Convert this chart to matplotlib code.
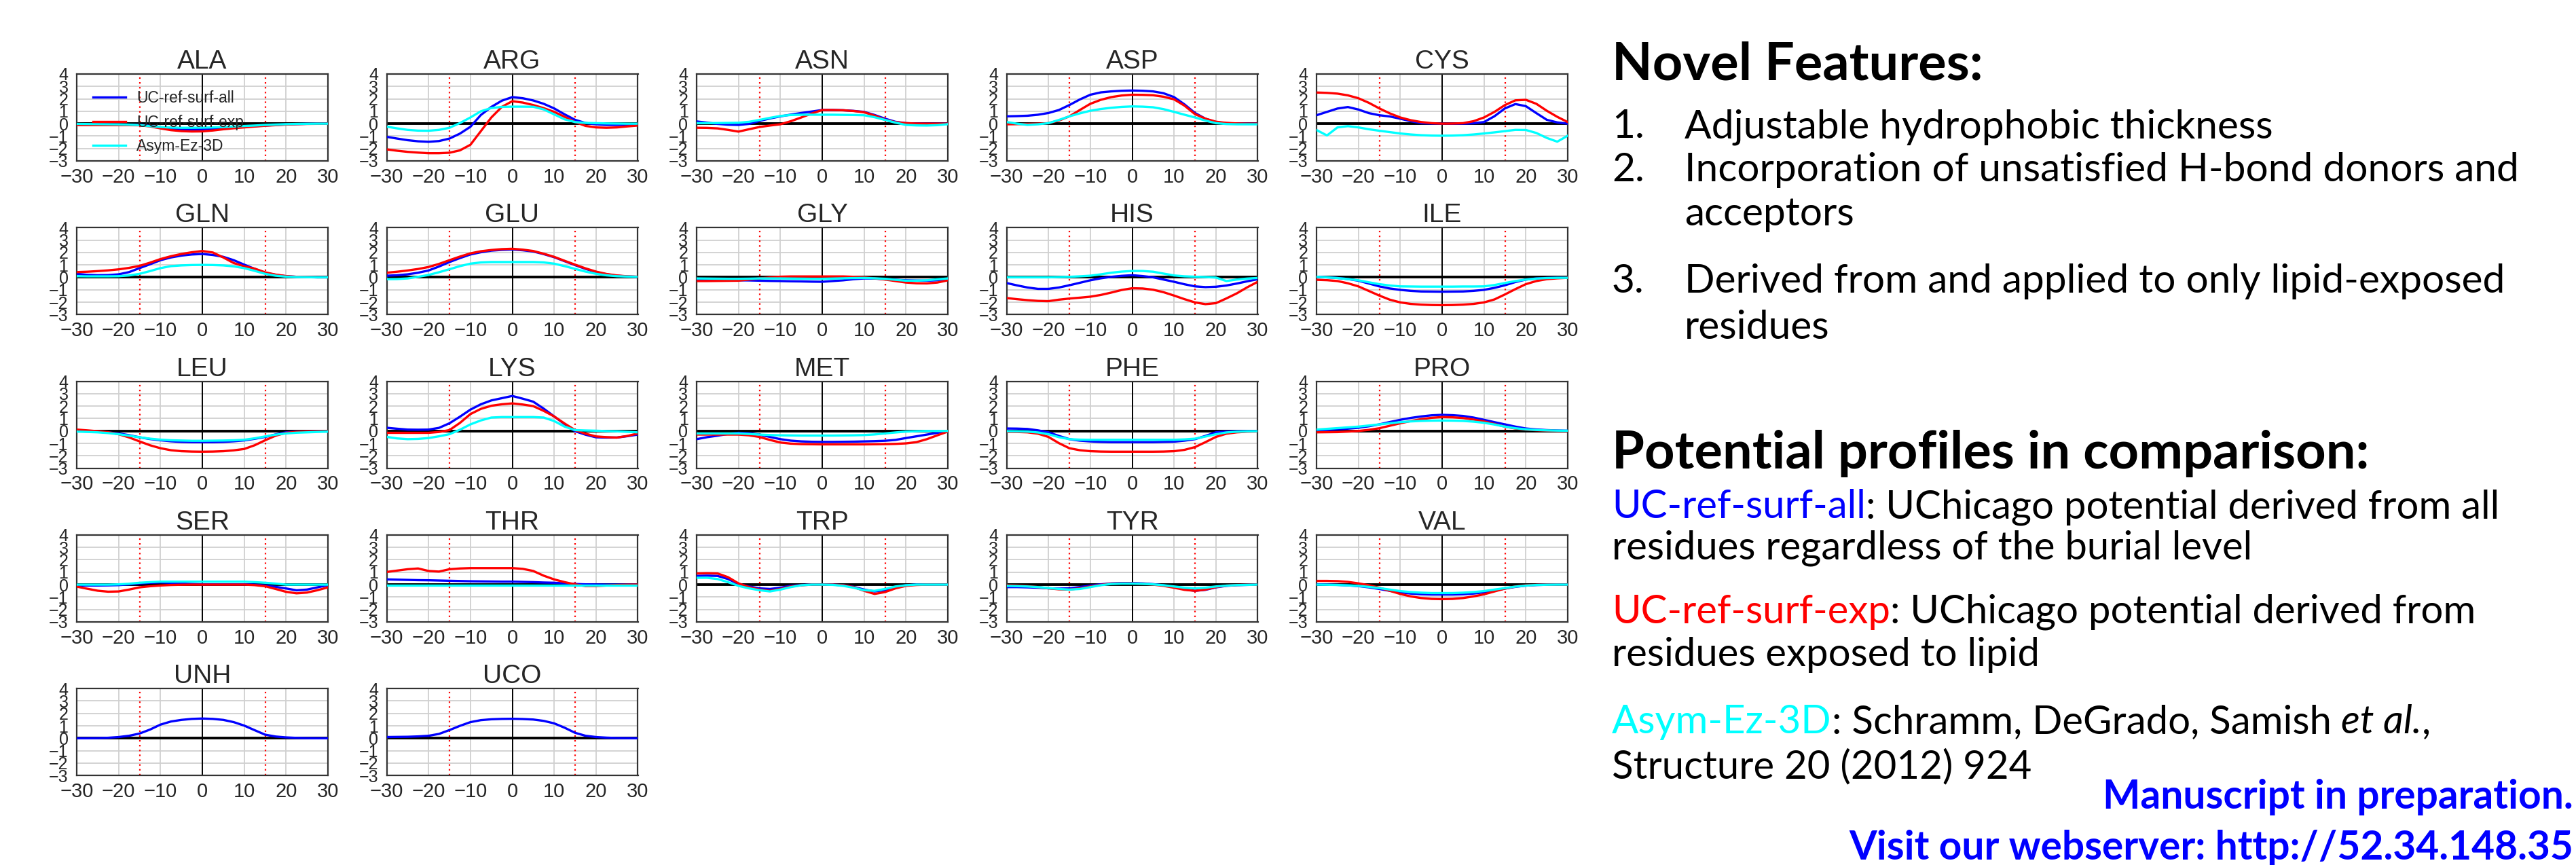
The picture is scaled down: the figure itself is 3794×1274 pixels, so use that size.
import matplotlib
matplotlib.use("Agg")
import matplotlib.pyplot as plt

W, H = 3794, 1274
DPI = 100

# ---------------- data ----------------
z = [-30, -27.5, -25, -22.5, -20, -17.5, -15, -12.5, -10, -7.5, -5, -2.5, 0,
     2.5, 5, 7.5, 10, 12.5, 15, 17.5, 20, 22.5, 25, 27.5, 30]

residues = ["ALA", "ARG", "ASN", "ASP", "CYS",
            "GLN", "GLU", "GLY", "HIS", "ILE",
            "LEU", "LYS", "MET", "PHE", "PRO",
            "SER", "THR", "TRP", "TYR", "VAL",
            "UNH", "UCO"]

series_labels = ["UC-ref-surf-all", "UC-ref-surf-exp", "Asym-Ez-3D"]
series_colors = ["#0000ff", "#ff0000", "#00ffff"]

ALA_all = [-0.05,-0.05,-0.05,-0.06,-0.07,-0.08,-0.1,-0.18,-0.3,-0.4,-0.45,-0.46,-0.45,-0.4,-0.35,-0.3,-0.25,-0.2,-0.15,-0.1,-0.06,-0.03,-0.01,0,0]
ALA_exp = [-0.12,-0.12,-0.12,-0.12,-0.12,-0.12,-0.13,-0.22,-0.38,-0.52,-0.6,-0.63,-0.62,-0.55,-0.45,-0.37,-0.3,-0.23,-0.17,-0.12,-0.07,-0.04,-0.02,-0.01,0]
ALA_ez = [-0.02,-0.03,-0.04,-0.05,-0.06,-0.08,-0.12,-0.2,-0.27,-0.31,-0.33,-0.33,-0.32,-0.3,-0.27,-0.23,-0.19,-0.15,-0.1,-0.07,-0.04,-0.02,-0.01,0,0]

ARG_all = [-1.06,-1.2,-1.33,-1.42,-1.46,-1.4,-1.2,-0.8,-0.25,0.7,1.35,1.85,2.14,2.05,1.87,1.6,1.23,0.75,0.31,0.05,-0.05,-0.1,-0.1,-0.1,-0.1]
ARG_exp = [-2.07,-2.18,-2.27,-2.33,-2.38,-2.38,-2.34,-2.15,-1.7,-0.6,0.5,1.35,1.81,1.7,1.5,1.25,0.95,0.55,0.13,-0.18,-0.3,-0.33,-0.3,-0.22,-0.15]
ARG_ez = [-0.24,-0.38,-0.5,-0.56,-0.57,-0.5,-0.33,0.05,0.5,1.0,1.26,1.35,1.37,1.37,1.36,1.15,0.75,0.35,0.13,0.06,0.04,0.02,0.01,0,0]

ASN_all = [0.18,0.08,-0.02,-0.08,-0.1,-0.02,0.22,0.42,0.59,0.73,0.86,0.98,1.1,1.1,1.08,1.03,0.95,0.7,0.4,0.15,0.04,0.01,0,0,0]
ASN_exp = [-0.33,-0.34,-0.38,-0.5,-0.64,-0.45,-0.27,-0.15,-0.05,0.2,0.5,0.82,1.1,1.1,1.08,1.02,0.92,0.65,0.31,0.12,0.04,0.01,0,0,0]
ASN_ez = [0.04,0.04,0.05,0.06,0.07,0.15,0.3,0.47,0.62,0.7,0.72,0.72,0.72,0.72,0.71,0.7,0.68,0.52,0.3,0.08,-0.1,-0.14,-0.15,-0.12,-0.04]

ASP_all = [0.59,0.61,0.64,0.72,0.86,1.1,1.5,1.95,2.33,2.52,2.6,2.65,2.67,2.65,2.6,2.45,2.14,1.55,0.86,0.4,0.13,0.04,0.01,0,0]
ASP_exp = [-0.05,-0.04,-0.02,0.0,0.04,0.25,0.59,1.1,1.6,1.92,2.14,2.27,2.33,2.32,2.29,2.17,1.96,1.45,0.77,0.4,0.16,0.06,0.02,0,0]
ASP_ez = [0.13,0.0,-0.1,-0.05,0.04,0.3,0.59,0.83,1.04,1.18,1.28,1.35,1.39,1.37,1.32,1.17,0.95,0.72,0.5,0.25,0.04,-0.03,-0.05,-0.05,-0.05]

CYS_all = [0.68,0.95,1.22,1.34,1.14,0.85,0.68,0.58,0.4,0.2,0.04,0.01,0,0,0,0.03,0.13,0.6,1.23,1.58,1.41,0.85,0.31,0.1,0]
CYS_exp = [2.51,2.48,2.42,2.28,2.05,1.68,1.23,0.83,0.5,0.28,0.13,0.04,0,0.01,0.04,0.2,0.5,0.95,1.5,1.88,1.92,1.6,1.04,0.55,0.13]
CYS_ez = [-0.51,-0.95,-0.3,-0.2,-0.3,-0.45,-0.57,-0.68,-0.79,-0.87,-0.93,-0.96,-0.97,-0.96,-0.93,-0.87,-0.79,-0.7,-0.6,-0.5,-0.51,-0.75,-1.15,-1.45,-0.97]

GLN_all = [0.28,0.2,0.17,0.18,0.24,0.42,0.74,1.05,1.38,1.6,1.75,1.84,1.88,1.8,1.65,1.38,1.02,0.68,0.37,0.2,0.09,0.04,0.01,0,0]
GLN_exp = [0.42,0.45,0.5,0.56,0.64,0.76,0.92,1.18,1.47,1.7,1.88,2.02,2.12,2.0,1.6,1.15,0.88,0.7,0.4,0.22,0.1,0.04,0.02,0,0]
GLN_ez = [0.09,0.08,0.08,0.08,0.09,0.15,0.28,0.5,0.74,0.9,0.96,0.99,1.0,0.99,0.96,0.88,0.74,0.52,0.28,0.13,0.05,0.02,0.01,0,0]

GLU_all = [0.13,0.17,0.24,0.37,0.55,0.87,1.23,1.55,1.84,2.02,2.15,2.21,2.24,2.18,2.08,1.87,1.62,1.3,0.98,0.68,0.42,0.25,0.13,0.07,0.04]
GLU_exp = [0.37,0.45,0.55,0.67,0.83,1.08,1.38,1.67,1.93,2.1,2.2,2.27,2.3,2.23,2.12,1.9,1.65,1.33,1.02,0.72,0.46,0.27,0.15,0.08,0.05]
GLU_ez = [-0.15,-0.14,-0.09,0.04,0.19,0.41,0.65,0.9,1.1,1.2,1.23,1.23,1.23,1.23,1.23,1.2,1.1,0.9,0.68,0.46,0.28,0.16,0.09,0.06,0.04]

GLY_all = [-0.18,-0.2,-0.22,-0.23,-0.24,-0.25,-0.27,-0.29,-0.3,-0.32,-0.33,-0.35,-0.36,-0.3,-0.24,-0.15,-0.09,-0.1,-0.15,-0.2,-0.24,-0.26,-0.27,-0.24,-0.18]
GLY_exp = [-0.3,-0.3,-0.29,-0.28,-0.27,-0.18,-0.09,-0.01,0.05,0.07,0.07,0.07,0.07,0.07,0.07,0.04,0.0,-0.08,-0.18,-0.3,-0.42,-0.48,-0.49,-0.42,-0.24]
GLY_ez = [-0.09,-0.1,-0.11,-0.12,-0.12,-0.11,-0.09,-0.09,-0.09,-0.1,-0.11,-0.12,-0.12,-0.1,-0.08,-0.06,-0.05,-0.08,-0.12,-0.2,-0.27,-0.27,-0.24,-0.16,-0.09]

HIS_all = [-0.46,-0.65,-0.82,-0.93,-0.93,-0.82,-0.64,-0.44,-0.24,-0.08,0.04,0.12,0.17,0.1,0.0,-0.18,-0.36,-0.56,-0.73,-0.79,-0.76,-0.66,-0.5,-0.32,-0.15]
HIS_exp = [-1.67,-1.76,-1.84,-1.9,-1.92,-1.8,-1.71,-1.64,-1.56,-1.42,-1.23,-1.02,-0.88,-0.9,-1.0,-1.2,-1.47,-1.76,-2.02,-2.16,-2.08,-1.7,-1.29,-0.8,-0.36]
HIS_ez = [0,0,0,0,0,0.02,0.04,0.08,0.13,0.24,0.37,0.46,0.51,0.51,0.45,0.3,0.15,0.08,0.05,0.02,-0.02,-0.3,-0.18,-0.1,-0.05]

ILE_all = [0.04,0.0,-0.05,-0.14,-0.27,-0.5,-0.73,-0.9,-1.01,-1.09,-1.14,-1.15,-1.16,-1.15,-1.14,-1.09,-1.01,-0.85,-0.64,-0.38,-0.18,-0.09,-0.05,-0.04,-0.04]
ILE_exp = [-0.2,-0.23,-0.3,-0.48,-0.73,-1.1,-1.47,-1.8,-2.02,-2.14,-2.2,-2.23,-2.24,-2.23,-2.2,-2.14,-2.02,-1.78,-1.38,-0.95,-0.55,-0.3,-0.15,-0.08,-0.04]
ILE_ez = [0.04,0.0,-0.06,-0.14,-0.24,-0.4,-0.55,-0.66,-0.73,-0.74,-0.75,-0.75,-0.75,-0.75,-0.74,-0.74,-0.73,-0.62,-0.46,-0.3,-0.18,-0.1,-0.06,-0.04,-0.04]

LEU_all = [-0.02,-0.04,-0.07,-0.12,-0.2,-0.34,-0.51,-0.65,-0.75,-0.83,-0.88,-0.9,-0.9,-0.9,-0.88,-0.83,-0.76,-0.63,-0.48,-0.28,-0.11,-0.06,-0.04,-0.03,-0.04]
LEU_exp = [0.11,0.05,-0.02,-0.1,-0.26,-0.52,-0.84,-1.15,-1.39,-1.55,-1.63,-1.66,-1.67,-1.66,-1.63,-1.56,-1.45,-1.15,-0.75,-0.38,-0.15,-0.07,-0.04,-0.03,-0.02]
LEU_ez = [-0.05,-0.08,-0.11,-0.17,-0.26,-0.38,-0.51,-0.62,-0.7,-0.75,-0.77,-0.79,-0.79,-0.78,-0.77,-0.75,-0.71,-0.59,-0.44,-0.3,-0.2,-0.14,-0.11,-0.08,-0.05]

LYS_all = [0.26,0.18,0.11,0.1,0.11,0.25,0.62,1.15,1.72,2.15,2.46,2.64,2.82,2.6,2.36,1.8,1.17,0.55,-0.02,-0.3,-0.51,-0.53,-0.53,-0.42,-0.29]
LYS_exp = [-0.15,-0.15,-0.15,-0.15,-0.15,-0.08,0.07,0.65,1.36,1.78,2.03,2.15,2.22,2.13,2.0,1.62,1.17,0.6,0.07,-0.22,-0.44,-0.5,-0.53,-0.4,-0.2]
LYS_ez = [-0.48,-0.6,-0.66,-0.64,-0.57,-0.43,-0.26,0.1,0.53,0.85,1.08,1.12,1.12,1.12,1.12,1.08,0.8,0.35,0.07,0.04,0.02,-0.01,-0.03,-0.07,-0.11]

MET_all = [-0.66,-0.5,-0.38,-0.24,-0.15,-0.18,-0.29,-0.48,-0.66,-0.78,-0.84,-0.87,-0.88,-0.88,-0.87,-0.86,-0.84,-0.82,-0.79,-0.72,-0.57,-0.43,-0.29,-0.15,-0.05]
MET_exp = [-0.29,-0.29,-0.29,-0.29,-0.29,-0.35,-0.48,-0.72,-0.93,-1.02,-1.06,-1.07,-1.08,-1.08,-1.08,-1.08,-1.08,-1.07,-1.06,-1.04,-1.0,-0.9,-0.66,-0.35,-0.05]
MET_ez = [-0.2,-0.2,-0.2,-0.2,-0.2,-0.24,-0.29,-0.33,-0.35,-0.36,-0.37,-0.37,-0.37,-0.37,-0.36,-0.35,-0.33,-0.28,-0.2,-0.12,-0.05,-0.02,0,0,0]

PHE_all = [0.2,0.19,0.16,0.05,-0.11,-0.4,-0.66,-0.78,-0.84,-0.88,-0.9,-0.9,-0.9,-0.9,-0.9,-0.88,-0.86,-0.78,-0.66,-0.4,-0.11,-0.05,-0.02,-0.02,-0.02]
PHE_exp = [-0.07,-0.08,-0.11,-0.22,-0.48,-0.98,-1.39,-1.55,-1.63,-1.66,-1.67,-1.67,-1.67,-1.67,-1.67,-1.66,-1.63,-1.52,-1.3,-0.9,-0.48,-0.22,-0.11,-0.06,-0.04]
PHE_ez = [-0.02,-0.03,-0.05,-0.12,-0.26,-0.5,-0.66,-0.7,-0.71,-0.71,-0.71,-0.71,-0.71,-0.71,-0.71,-0.71,-0.71,-0.68,-0.62,-0.45,-0.26,-0.12,-0.06,-0.03,-0.02]

PRO_all = [0.04,0.08,0.13,0.19,0.26,0.38,0.53,0.72,0.9,1.05,1.17,1.26,1.3,1.27,1.21,1.08,0.9,0.71,0.53,0.35,0.2,0.12,0.07,0.04,0.02]
PRO_exp = [-0.11,-0.1,-0.09,-0.05,0.0,0.09,0.22,0.42,0.62,0.8,0.95,1.06,1.12,1.1,1.04,0.92,0.77,0.56,0.35,0.2,0.11,0.06,0.03,0.01,0.0]
PRO_ez = [0.11,0.17,0.23,0.29,0.35,0.44,0.53,0.62,0.71,0.77,0.81,0.83,0.84,0.83,0.81,0.75,0.66,0.52,0.35,0.22,0.13,0.08,0.05,0.03,0.02]

SER_all = [-0.07,-0.07,-0.07,-0.06,-0.04,0.02,0.09,0.15,0.18,0.15,0.09,0.05,0.02,0.02,0.02,0.02,0.02,0.0,-0.07,-0.18,-0.31,-0.46,-0.4,-0.22,-0.04]
SER_exp = [-0.16,-0.33,-0.49,-0.57,-0.55,-0.4,-0.22,-0.13,-0.07,-0.03,-0.01,0,0,0,0,0,0,-0.04,-0.13,-0.35,-0.58,-0.7,-0.64,-0.45,-0.22]
SER_ez = [0,0,0,0,0.02,0.07,0.15,0.2,0.24,0.24,0.24,0.24,0.24,0.24,0.24,0.24,0.24,0.2,0.15,0.08,0,0,0,0,0]

THR_all = [0.42,0.4,0.38,0.36,0.35,0.33,0.31,0.29,0.27,0.26,0.25,0.24,0.24,0.22,0.2,0.17,0.15,0.1,0.05,0.02,0.01,0,0,0,0]
THR_exp = [1.02,1.13,1.24,1.3,1.1,1.05,1.24,1.3,1.33,1.33,1.33,1.33,1.33,1.27,1.1,0.72,0.42,0.2,0.02,-0.12,-0.12,-0.07,-0.03,-0.01,0]
THR_ez = [-0.03,-0.03,-0.03,-0.03,-0.03,-0.03,-0.03,-0.03,-0.03,-0.03,-0.03,-0.03,-0.03,-0.03,-0.03,-0.03,-0.03,-0.03,-0.03,-0.03,-0.03,-0.03,-0.03,-0.03,-0.03]

TRP_all = [0.7,0.72,0.7,0.45,0.05,-0.15,-0.3,-0.35,-0.25,-0.1,-0.03,0,0,0,-0.05,-0.18,-0.4,-0.55,-0.45,-0.2,-0.05,0,0,0,0]
TRP_exp = [0.9,0.92,0.9,0.6,0.1,-0.2,-0.4,-0.5,-0.35,-0.15,-0.05,0,0,0,-0.05,-0.2,-0.5,-0.75,-0.6,-0.3,-0.1,-0.03,0,0,0]
TRP_ez = [0.55,0.55,0.45,0.2,-0.1,-0.3,-0.45,-0.55,-0.4,-0.2,-0.05,0,0,-0.02,-0.1,-0.25,-0.45,-0.5,-0.35,-0.15,-0.05,0,0,0,0]

TYR_all = [-0.2,-0.2,-0.22,-0.25,-0.3,-0.32,-0.3,-0.2,-0.08,0.02,0.1,0.13,0.13,0.1,0.04,-0.06,-0.2,-0.38,-0.5,-0.42,-0.22,-0.1,-0.04,-0.02,0]
TYR_exp = [-0.05,-0.08,-0.12,-0.2,-0.3,-0.38,-0.4,-0.3,-0.15,-0.02,0.08,0.1,0.1,0.06,0,-0.1,-0.25,-0.42,-0.5,-0.4,-0.2,-0.08,-0.03,-0.01,0]
TYR_ez = [-0.1,-0.12,-0.15,-0.2,-0.28,-0.35,-0.4,-0.35,-0.2,-0.05,0.05,0.08,0.08,0.06,0.02,-0.05,-0.15,-0.25,-0.3,-0.25,-0.15,-0.08,-0.04,-0.02,0]

VAL_all = [0.02,0.0,-0.02,-0.06,-0.12,-0.22,-0.35,-0.5,-0.62,-0.72,-0.78,-0.8,-0.8,-0.8,-0.78,-0.72,-0.62,-0.48,-0.32,-0.18,-0.08,-0.03,-0.01,0,0]
VAL_exp = [0.3,0.3,0.28,0.22,0.1,-0.05,-0.25,-0.5,-0.75,-0.95,-1.08,-1.15,-1.17,-1.15,-1.08,-0.95,-0.78,-0.55,-0.32,-0.15,-0.05,-0.02,0,0,0]
VAL_ez = [0.0,-0.01,-0.03,-0.06,-0.1,-0.18,-0.28,-0.4,-0.52,-0.6,-0.65,-0.68,-0.68,-0.68,-0.65,-0.6,-0.52,-0.4,-0.28,-0.16,-0.08,-0.03,-0.01,0,0]

UNH_all = [0,0,0.01,0.04,0.1,0.2,0.38,0.7,1.1,1.35,1.48,1.56,1.59,1.56,1.48,1.3,1.02,0.65,0.29,0.14,0.07,0.03,0.01,0,0]
UCO_all = [0.1,0.11,0.12,0.15,0.2,0.35,0.66,1.0,1.3,1.46,1.53,1.56,1.57,1.55,1.51,1.4,1.2,0.85,0.44,0.2,0.1,0.05,0.02,0.01,0]

g = globals()
profiles = {}
for name in residues:
    profiles[name] = [g[name + suf] for suf in ("_all", "_exp", "_ez") if name + suf in g]

xticks = [-30, -20, -10, 0, 10, 20, 30]
yticks = [-3, -2, -1, 0, 1, 2, 3, 4]
membrane_edges = [-15, 15]

# ---------------- figure ----------------
plt.rcParams["font.family"] = ["Liberation Sans", "DejaVu Sans"]
fig = plt.figure(figsize=(W / DPI, H / DPI), dpi=DPI)
fig.patch.set_facecolor("white")

TXT = "#262626"
ax_left0, ax_top0 = 113, 109
col_step, row_step = 456.5, 226.3
ax_w, ax_h = 370, 128


def px_axes(left, top, w, h):
    return fig.add_axes([left / W, 1 - (top + h) / H, w / W, h / H])


for i, name in enumerate(residues):
    r, c = divmod(i, 5)
    ax = px_axes(ax_left0 + c * col_step, ax_top0 + r * row_step, ax_w, ax_h)
    ax.set_facecolor("white")
    ax.set_xlim(-30, 30)
    ax.set_ylim(-3, 4)
    ax.set_xticks(xticks)
    ax.set_yticks(yticks)
    ax.grid(True, color="#d0d0d0", lw=1.3)
    ax.set_axisbelow(True)
    for sp in ax.spines.values():
        sp.set_color("#333333")
        sp.set_linewidth(1.6)
    ax.tick_params(axis="both", length=0, colors=TXT)
    ax.tick_params(axis="x", labelsize=21, pad=7)
    ax.tick_params(axis="y", labelsize=18, pad=9)
    ax.axhline(0, color="black", lw=2.8, zorder=2)
    ax.axvline(0, color="black", lw=1.4, zorder=2)
    for e in membrane_edges:
        ax.axvline(e, color="red", lw=1.6, ls=(0, (1, 2.2)), zorder=2)
    for k, ys in enumerate(profiles[name]):
        ax.plot(z, ys, color=series_colors[k], lw=2.4, label=series_labels[k], zorder=3)
    ax.set_title(name, fontsize=28, color=TXT, pad=3)
    if i == 0:
        leg = ax.legend(loc="upper left", frameon=False, fontsize=16.5,
                        handlelength=2.1, handletextpad=0.7, labelspacing=0.55,
                        borderaxespad=0.65, borderpad=0.4)
        for t in leg.get_texts():
            t.set_color(TXT)

# ---------------- right-hand text ----------------
renderer = fig.canvas.get_renderer()
FAM = ["Lato", "DejaVu Sans"]


def measure(s, size, **kw):
    t = fig.text(0, 0, s, fontsize=size, family=FAM, **kw)
    w = t.get_window_extent(renderer=renderer).width
    t.remove()
    return w


def fit(s, target, **kw):
    return 50 * target / measure(s, 50, **kw)


def put(x, y, s, size, ha="left", **kw):
    return fig.text(x / W, 1 - y / H, s, fontsize=size, family=FAM,
                    ha=ha, va="baseline", **kw)


def put_segments(x, y, segs, size):
    sp = measure("a a", size) - measure("aa", size)
    for s, color, style in segs:
        if s == " ":
            x += sp
            continue
        t = put(x, y, s, size, color=color, style=style)
        x += t.get_window_extent(renderer=renderer).width


title_size = fit("Novel Features:", 547, weight="bold")
list_size = fit("Incorporation of unsatisfied H-bond donors and", 1229)
body_size = fit("UC-ref-surf-all: UChicago potential derived from all", 1308)
foot_size = fit("Visit our webserver: http://52.34.148.35", 1068, weight="bold")

X0, XL = 2374, 2481
put(X0, 118, "Novel Features:", title_size, weight="bold", color="black")
put(X0, 203, "1.", list_size, color="black")
put(XL, 203, "Adjustable hydrophobic thickness", list_size, color="black")
put(X0, 267, "2.", list_size, color="black")
put(XL, 267, "Incorporation of unsatisfied H-bond donors and", list_size, color="black")
put(XL, 332, "acceptors", list_size, color="black")
put(X0, 431, "3.", list_size, color="black")
put(XL, 431, "Derived from and applied to only lipid-exposed", list_size, color="black")
put(XL, 499, "residues", list_size, color="black")

put(X0, 690, "Potential profiles in comparison:", title_size, weight="bold", color="black")
put_segments(X0, 763, [("UC-ref-surf-all", "#0000ff", "normal"),
                       (": UChicago potential derived from all", "black", "normal")], body_size)
put(X0, 824, "residues regardless of the burial level", body_size, color="black")
put_segments(X0, 918, [("UC-ref-surf-exp", "#ff0000", "normal"),
                       (": UChicago potential derived from", "black", "normal")], body_size)
put(X0, 981, "residues exposed to lipid", body_size, color="black")
put_segments(X0, 1080, [("Asym-Ez-3D", "#00ffff", "normal"),
                        (": Schramm, DeGrado, Samish", "black", "normal"),
                        (" ", None, None),
                        ("et al.", "black", "italic"),
                        (",", "black", "normal")], body_size)
put(X0, 1146, "Structure 20 (2012) 924", body_size, color="black")

put(3790, 1191, "Manuscript in preparation.", foot_size, ha="right", weight="bold", color="#0000ff")
put(3790, 1266, "Visit our webserver: http://52.34.148.35", foot_size, ha="right", weight="bold", color="#0000ff")

fig.savefig("out.png", dpi=DPI, facecolor="white")
